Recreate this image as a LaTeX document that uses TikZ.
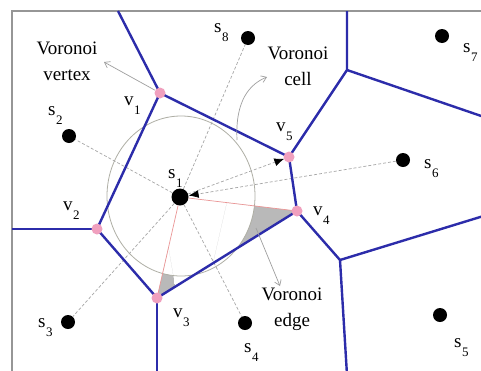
\documentclass[tikz,border=0pt]{standalone}
\usepackage{fontspec}
\setmainfont{Liberation Serif}
\usetikzlibrary{arrows.meta,calc}
\definecolor{voroblue}{RGB}{44,44,170}
\definecolor{vpink}{RGB}{240,160,190}
\definecolor{framegray}{RGB}{150,150,150}
\definecolor{pinkline}{RGB}{235,150,150}
\definecolor{circgray}{RGB}{175,175,165}
\newcommand\sublab[2]{#1\kern0.5pt\raisebox{-9pt}{\fontsize{13}{13}\selectfont #2}}
\begin{document}
\begin{tikzpicture}[x=1pt,y=-1pt,
  vedge/.style={draw=voroblue, line width=2.4pt, line join=round},
  site/.style={circle, fill=black, inner sep=0pt, minimum size=14pt},
  bigsite/.style={circle, fill=black, inner sep=0pt, minimum size=17pt},
  vert/.style={circle, fill=vpink, inner sep=0pt, minimum size=11pt},
  lbl/.style={font=\fontsize{19}{25}\selectfont, inner sep=0pt, anchor=base west},
  note/.style={font=\fontsize{19}{26}\selectfont, inner sep=0pt, align=center},
  dline/.style={draw=gray!70, dash pattern=on 3pt off 2pt, line width=0.7pt},
  pline/.style={draw=pinkline, line width=0.7pt},
  annot/.style={draw=gray!75, line width=0.7pt, -{Straight Barb[length=5pt,width=7pt]}},
  tip/.style={-{Latex[length=10pt,width=8pt,color=black]}}
]
\path[use as bounding box] (0,0) rectangle (481,370);
\clip (0,0) rectangle (481,370);
\fill[white] (0,0) rectangle (481,370);

% frame
\draw[framegray, line width=1.5pt] (490,11) -- (12,11) -- (12,380);

% coordinates
\coordinate (s1c) at (180,197);
\node[bigsite] (s1) at (180,197) {};
\node[site] (s2) at (69,136) {};
\node[site] (s3) at (68,322) {};
\node[site] (s4) at (245,323) {};
\node[site] (s5) at (440,315) {};
\node[site] (s6) at (403,160) {};
\node[site] (s7) at (442,36) {};
\node[site] (s8) at (248,38) {};

\coordinate (v1) at (160,93);
\coordinate (v2) at (97,229);
\coordinate (v3) at (157,298);
\coordinate (v4) at (297,211);
\coordinate (v5) at (289,157);
\coordinate (j1) at (347,70);
\coordinate (j2) at (340,260);
\coordinate (e1) at (118,11);
\coordinate (e2) at (12,229);
\coordinate (e3) at (157,375);
\coordinate (e4) at (347,11);
\coordinate (e5) at (490,119);
\coordinate (e6) at (490,214);
\coordinate (e7) at (347,375);

% gray angle regions (outside the circle)
\begin{scope}
  \clip (v4) -- ($(v4)!0.6!(s1c)$) -- ($(v4)!0.6!(v3)$) -- cycle;
  \fill[gray!55, even odd rule] (v4) -- ($(v4)!0.6!(s1c)$) -- ($(v4)!0.6!(v3)$) -- cycle
    (181,196) ellipse [x radius=74pt, y radius=80pt];
\end{scope}
\begin{scope}
  \clip (v3) -- ($(v3)!0.5!(s1c)$) -- ($(v3)!0.13!(v4)$) -- cycle;
  \fill[gray!55, even odd rule] (v3) -- ($(v3)!0.5!(s1c)$) -- ($(v3)!0.13!(v4)$) -- cycle
    (181,196) ellipse [x radius=74pt, y radius=80pt];
\end{scope}

% empty circle
\draw[circgray, line width=0.8pt] (181,196) ellipse [x radius=74pt, y radius=80pt];

% dashed connections
\draw[dline] (s1) -- (s2);
\draw[dline] (s1) -- (s8);
\draw[dline] (s1) -- (s3);
\draw[dline] (s1) -- (s4);
\draw[dline, tip] (s6) -- (s1);
\draw[dline, tip, shorten >=5pt] (s1) -- (v5);

% pink lines
\draw[pline] (s1) -- (v3);
\draw[pline] (s1) -- (v4);

% Voronoi edges
\draw[vedge] (e1) -- (v1) -- (v5) -- (v4) -- (v3) -- (v2) -- (v1);
\draw[vedge] (e2) -- (v2);
\draw[vedge] (v3) -- (e3);
\draw[vedge] (v5) -- (j1) -- (e4);
\draw[vedge] (j1) -- (e5);
\draw[vedge] (v4) -- (j2) -- (e6);
\draw[vedge] (j2) -- (e7);

% Voronoi vertices
\node[vert] (V1) at (v1) {};
\node[vert] (V2) at (v2) {};
\node[vert] (V3) at (v3) {};
\node[vert] (V4) at (v4) {};
\node[vert] (V5) at (v5) {};

% annotations
\node[note] (tvv) at (67,61) {Voronoi\\vertex};
\node[note] (tvc) at (298,66) {Voronoi\\cell};
\node[note] (tve) at (292,309) {Voronoi\\edge};
\coordinate (avv) at (104,62);
\coordinate (cellA) at (237,140);
\coordinate (cellB) at (267,77);
\coordinate (edgA) at (256,228);
\coordinate (edgB) at (280,286);
\draw[annot] (V1) -- (avv);
\draw[annot] (cellA) .. controls (235,100) and (250,84) .. (cellB);
\draw[annot] (edgA) -- (edgB);

% labels
\node[lbl] (ls1) at (168,178) {\sublab{s}{1}};
\node[lbl] (ls2) at (48,115) {\sublab{s}{2}};
\node[lbl] (ls3) at (38,327) {\sublab{s}{3}};
\node[lbl] (ls4) at (244,352) {\sublab{s}{4}};
\node[lbl] (ls5) at (454,347) {\sublab{s}{5}};
\node[lbl] (ls6) at (424,168) {\sublab{s}{6}};
\node[lbl] (ls7) at (463,52) {\sublab{s}{7}};
\node[lbl] (ls8) at (214,32) {\sublab{s}{8}};
\node[lbl] (lv1) at (124,105) {\sublab{v}{1}};
\node[lbl] (lv2) at (63,210) {\sublab{v}{2}};
\node[lbl] (lv3) at (173,317) {\sublab{v}{3}};
\node[lbl] (lv4) at (313,215) {\sublab{v}{4}};
\node[lbl] (lv5) at (276,131) {\sublab{v}{5}};
\end{tikzpicture}
\end{document}
